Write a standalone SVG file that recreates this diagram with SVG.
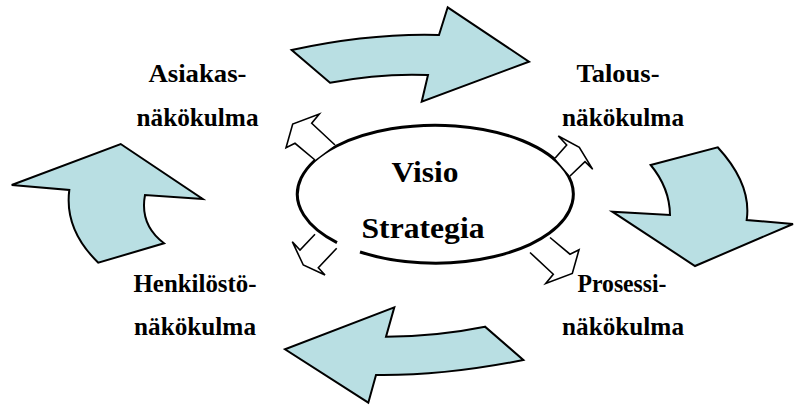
<svg xmlns="http://www.w3.org/2000/svg" width="794" height="407" viewBox="0 0 794 407">
<style>
.big{fill:#b9dfe3;stroke:#000;stroke-width:2;stroke-linejoin:miter}
.small{fill:#fff;stroke:#000;stroke-width:1.6;stroke-linejoin:miter}
.ell{fill:none;stroke:#000;stroke-width:3}
text{font-family:"Liberation Serif","Times New Roman",serif;font-weight:bold;fill:#000;text-anchor:middle}
.lbl{font-size:25px}
.ctr{font-size:29px}
</style>
<rect width="794" height="407" fill="#fff"/>
<g id="connectors">
<path class="big" d="M291.7,50 Q370,33 439,35 L447.7,7.3 L529,61.7 L421.7,101.7 L428,75 Q381,73 330,82.7 Z"/>
<path class="big" d="M650.7,165 L717.7,147.3 Q751.8,184.4 746.7,220 L793,224 L695,266 L612.3,211.7 L670,215 Q669.7,188 650.7,165 Z"/>
<path class="big" d="M485,326.7 Q438,336.3 386,336.7 L394.3,307.3 L285,349.3 L368.3,402.7 L376,375 Q443.7,375.9 523.3,360 Z"/>
<path class="big" d="M11.7,185 L120.7,144 L202.7,199 L145,195 Q139.5,224.9 164,243.3 L98.3,262.7 Q64.2,229.6 69.3,190 Z"/>
</g>
<g id="center">
<path class="ell" d="M360,252 A138,69 0 1 0 337,242.6"/>
<polyline class="small" points="315,160 295,143.3 286,147.7 292.7,124 319.3,114 311.7,123.3 335,145"/>
<polyline class="small" points="555,158.3 566.7,145 558.3,136 579.3,147.3 592.7,169.3 585,161.7 570,176"/>
<polyline class="small" points="315,234.3 300,250 292.3,241.7 303.3,265 325,275 318.3,267.7 336.7,248.3"/>
<polyline class="small" points="550,237.5 570,254.2 579,249.8 572.3,273.5 545.7,283.5 553.3,274.2 530,252.5"/>
<text class="ctr" x="425" y="182" textLength="67" lengthAdjust="spacingAndGlyphs">Visio</text>
<text class="ctr" x="423" y="238" textLength="123" lengthAdjust="spacingAndGlyphs">Strategia</text>
</g>
<g id="asiakas">
<text class="lbl" x="197.5" y="82" textLength="98" lengthAdjust="spacingAndGlyphs">Asiakas-</text>
<text class="lbl" x="197.5" y="126" textLength="122" lengthAdjust="spacingAndGlyphs">näkökulma</text>
</g>
<g id="talous">
<text class="lbl" x="618" y="82" textLength="83" lengthAdjust="spacingAndGlyphs">Talous-</text>
<text class="lbl" x="623" y="126" textLength="122" lengthAdjust="spacingAndGlyphs">näkökulma</text>
</g>
<g id="henkilosto">
<text class="lbl" x="195" y="292" textLength="123" lengthAdjust="spacingAndGlyphs">Henkilöstö-</text>
<text class="lbl" x="195" y="335" textLength="122" lengthAdjust="spacingAndGlyphs">näkökulma</text>
</g>
<g id="prosessi">
<text class="lbl" x="622" y="292" textLength="89" lengthAdjust="spacingAndGlyphs">Prosessi-</text>
<text class="lbl" x="623" y="335" textLength="122" lengthAdjust="spacingAndGlyphs">näkökulma</text>
</g>
</svg>
